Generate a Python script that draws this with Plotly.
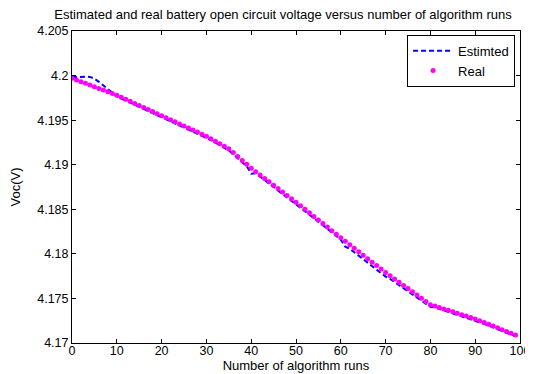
import plotly.graph_objects as go

runs = list(range(100))

real_voc = [
    4.19970, 4.19951, 4.19932, 4.19913, 4.19894, 4.19875, 4.19856, 4.19837, 4.19818, 4.19799,
    4.19780, 4.19757, 4.19734, 4.19711, 4.19688, 4.19665, 4.19642, 4.19619, 4.19596, 4.19573,
    4.19550, 4.19527, 4.19504, 4.19481, 4.19458, 4.19435, 4.19412, 4.19389, 4.19366, 4.19343,
    4.19320, 4.19292, 4.19264, 4.19236, 4.19208, 4.19180, 4.19136, 4.19092, 4.19048, 4.19004,
    4.18960, 4.18922, 4.18884, 4.18846, 4.18808, 4.18770, 4.18732, 4.18694, 4.18656, 4.18618,
    4.18580, 4.18540, 4.18500, 4.18460, 4.18420, 4.18380, 4.18340, 4.18300, 4.18260, 4.18220,
    4.18180, 4.18141, 4.18102, 4.18063, 4.18024, 4.17985, 4.17946, 4.17907, 4.17868, 4.17829,
    4.17790, 4.17754, 4.17718, 4.17682, 4.17646, 4.17610, 4.17574, 4.17538, 4.17502, 4.17466,
    4.17430, 4.17414, 4.17398, 4.17382, 4.17366, 4.17350, 4.17334, 4.17318, 4.17302, 4.17286,
    4.17270, 4.17250, 4.17230, 4.17210, 4.17190, 4.17170, 4.17150, 4.17130, 4.17110, 4.17090,
]

est_voc = [
    4.19980, 4.19985, 4.19988, 4.19988, 4.19985, 4.19965, 4.19930, 4.19890, 4.19848, 4.19808,
    4.19768, 4.19742, 4.19719, 4.19696, 4.19673, 4.19650, 4.19627, 4.19604, 4.19576, 4.19553,
    4.19530, 4.19507, 4.19484, 4.19461, 4.19438, 4.19420, 4.19397, 4.19374, 4.19351, 4.19328,
    4.19305, 4.19277, 4.19249, 4.19221, 4.19188, 4.19160, 4.19116, 4.19072, 4.19028, 4.18984,
    4.18900, 4.18904, 4.18866, 4.18828, 4.18790, 4.18752, 4.18714, 4.18676, 4.18638, 4.18600,
    4.18560, 4.18520, 4.18480, 4.18440, 4.18400, 4.18360, 4.18320, 4.18280, 4.18240, 4.18200,
    4.18160, 4.18081, 4.18057, 4.18018, 4.17979, 4.17940, 4.17901, 4.17862, 4.17823, 4.17784,
    4.17745, 4.17719, 4.17683, 4.17647, 4.17611, 4.17575, 4.17539, 4.17503, 4.17467, 4.17431,
    4.17405, 4.17399, 4.17383, 4.17367, 4.17351, 4.17335, 4.17319, 4.17303, 4.17287, 4.17271,
    4.17255, 4.17235, 4.17215, 4.17195, 4.17175, 4.17155, 4.17135, 4.17115, 4.17095, 4.17075,
]

x_ticks = [0, 10, 20, 30, 40, 50, 60, 70, 80, 90, 100]
y_ticks = [4.17, 4.175, 4.18, 4.185, 4.19, 4.195, 4.2, 4.205]
y_tick_labels = ["4.17", "4.175", "4.18", "4.185", "4.19", "4.195", "4.2", "4.205"]

fig = go.Figure()
fig.add_trace(go.Scatter(
    x=runs, y=est_voc, mode="lines", name="Estimted",
    line=dict(color="#0000FF", width=2, dash="5px,3px"),
))
fig.add_trace(go.Scatter(
    x=runs, y=real_voc, mode="markers", name="Real",
    marker=dict(color="#FF00FF", size=5, line=dict(width=0)),
))

FAM = "Liberation Sans, Arial, sans-serif"
font = dict(family=FAM, size=12.5, color="black")
title_font = dict(family=FAM, size=13, color="black")

axis_common = dict(
    showline=True, linecolor="black", linewidth=1, mirror="ticks",
    ticks="inside", ticklen=4, tickcolor="black", showgrid=False, zeroline=False,
    tickfont=font, automargin=False,
)

fig.update_layout(
    width=533, height=374,
    margin=dict(l=64, r=21, t=23, b=39),
    paper_bgcolor="white", plot_bgcolor="white",
    font=font,
    title=dict(
        text="Estimated and real battery open circuit voltage versus number of algorithm runs",
        x=0.516, xanchor="center", y=0.983, yanchor="middle",
        font=title_font,
    ),
    xaxis=dict(
        range=[0, 100], tickvals=x_ticks, ticklabelstandoff=-4,
        title=dict(text="Number of algorithm runs", standoff=0, font=title_font),
        **axis_common,
    ),
    yaxis=dict(
        range=[4.17, 4.205], tickvals=y_ticks, ticktext=y_tick_labels,
        title=dict(text="Voc(V)", standoff=17, font=title_font),
        **axis_common,
    ),
    legend=dict(
        x=0.989, xanchor="right", y=0.988, yanchor="top",
        bgcolor="white", bordercolor="black", borderwidth=1,
        font=title_font, tracegroupgap=0, itemwidth=40,
    ),
    showlegend=True,
)

fig.write_html("out.html")
